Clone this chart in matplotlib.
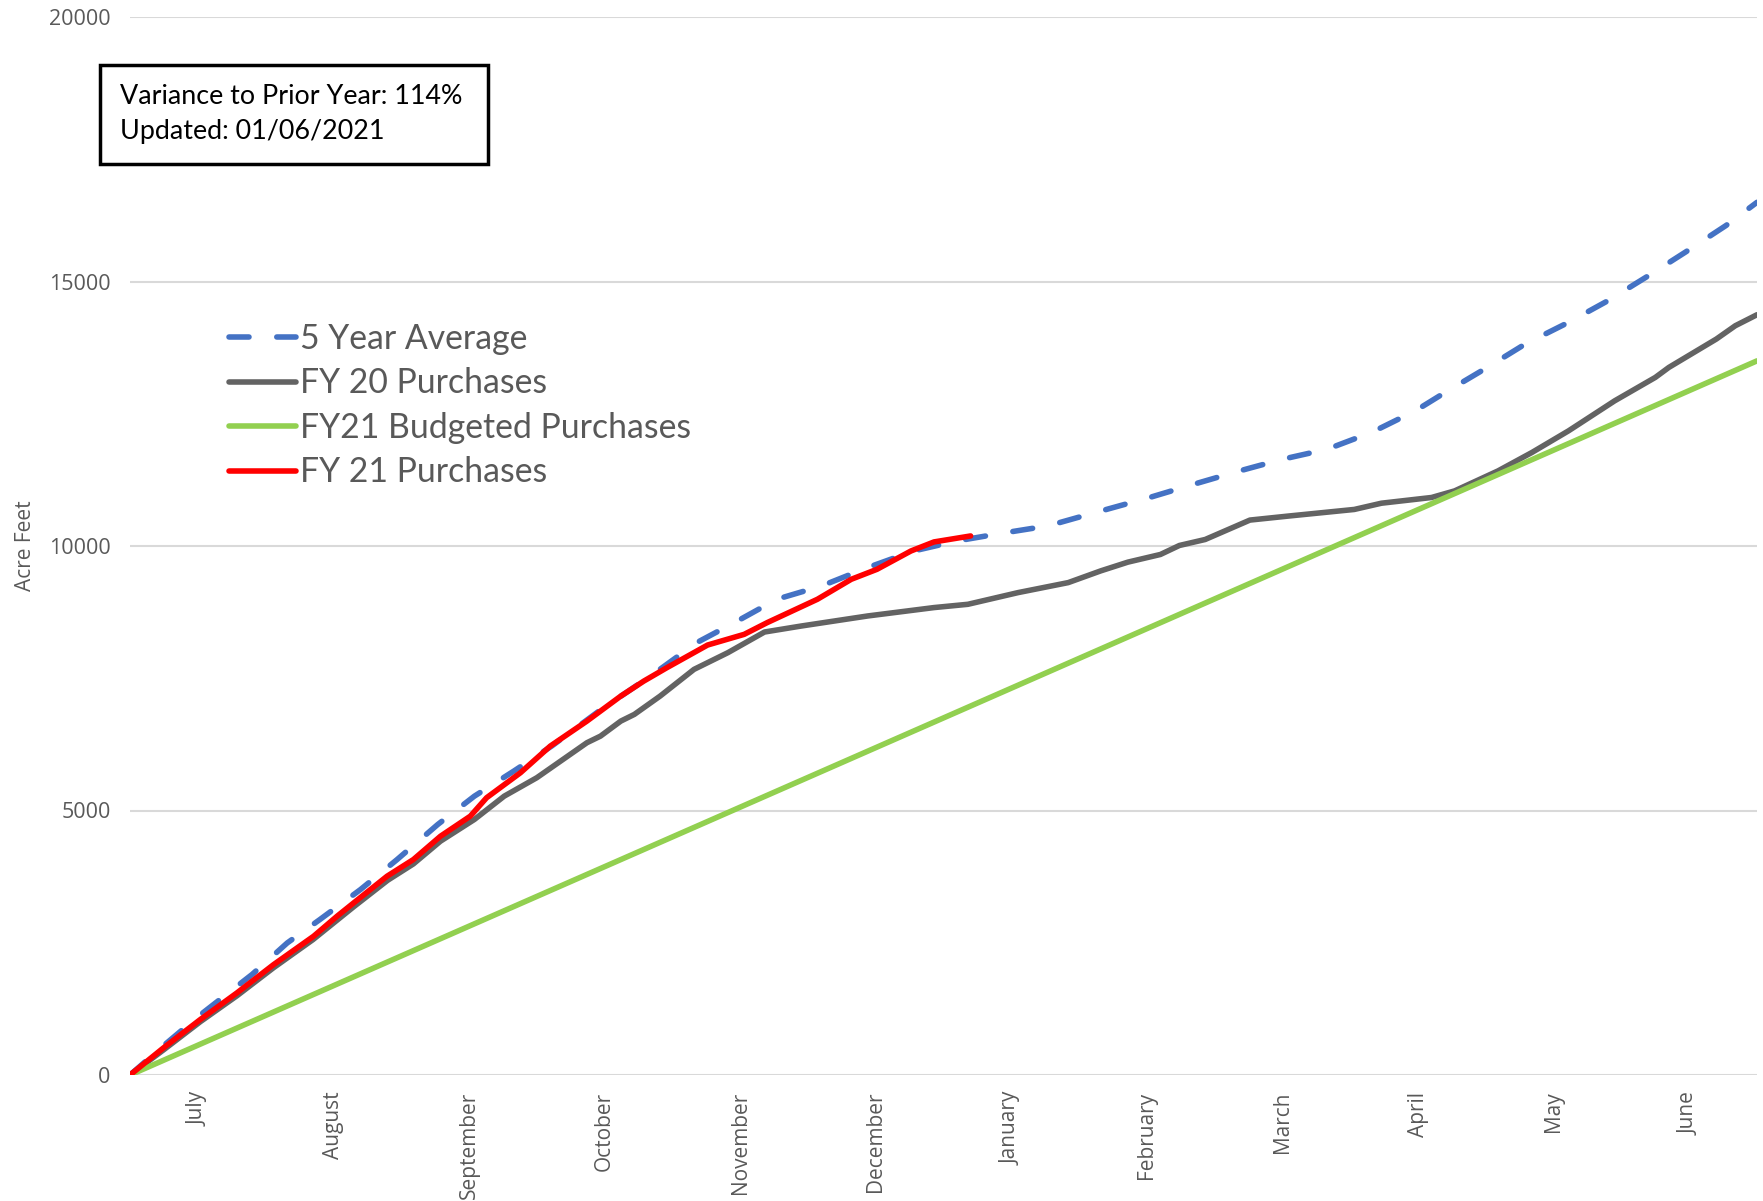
import matplotlib.pyplot as plt
from matplotlib.patches import Rectangle

# months since July 1 (fiscal year runs July -> June)
months = ["July", "August", "September", "October", "November", "December",
          "January", "February", "March", "April", "May", "June"]

avg5_x = [0, 0.25, 0.5, 0.9, 1.16, 1.4, 1.7, 1.97, 2.27, 2.54, 2.83, 3.11, 3.47,
          3.84, 4.18, 4.48, 4.77, 5.10, 5.44, 5.78, 6.10, 6.43, 6.77, 7.12, 7.52,
          7.84, 8.18, 8.5, 8.83, 9.16, 9.48, 9.70, 9.99, 10.29, 10.61, 10.90,
          11.20, 11.47, 11.77, 12.0]
avg5_y = [0, 560, 1100, 1900, 2497, 2938, 3506, 4073, 4736, 5271, 5744, 6218, 6900,
          7541, 8173, 8582, 8993, 9244, 9592, 9906, 10096, 10241, 10380, 10633, 10917,
          11163, 11417, 11640, 11830, 12150, 12555, 12903, 13344, 13817, 14228, 14636,
          15110, 15552, 16056, 16497]

fy20_x = [0, 0.25, 0.52, 0.79, 1.06, 1.35, 1.65, 1.90, 2.09, 2.29, 2.54, 2.76, 3.0,
          3.37, 3.47, 3.62, 3.72, 3.91, 4.16, 4.41, 4.68, 4.95, 5.44, 5.93, 6.18, 6.55,
          6.92, 7.16, 7.36, 7.6, 7.74, 7.93, 8.26, 8.54, 9.03, 9.23, 9.60, 9.77, 10.09,
          10.34, 10.61, 10.95, 11.25, 11.35, 11.70, 11.84, 12.0]
fy20_y = [0, 480, 1010, 1500, 2030, 2560, 3180, 3680, 3990, 4420, 4830, 5271, 5619,
          6281, 6406, 6690, 6817, 7163, 7668, 7984, 8374, 8487, 8677, 8836, 8898, 9119,
          9308, 9530, 9695, 9840, 10010, 10123, 10490, 10565, 10691, 10809, 10917, 11042,
          11420, 11768, 12177, 12744, 13187, 13376, 13912, 14164, 14372]

budget_x = [0, 1, 2, 3, 4, 5, 6, 7, 8, 9, 10, 11, 12]
budget_y = [0, 1125, 2250, 3375, 4500, 5625, 6750, 7875, 9000, 10125, 11250, 12375, 13500]

fy21_x = [0, 0.246, 0.517, 0.788, 1.059, 1.354, 1.527, 1.65, 1.896, 2.09, 2.29, 2.51,
          2.63, 2.88, 3.10, 3.37, 3.62, 3.79, 3.96, 4.26, 4.53, 4.70, 5.07, 5.32, 5.51,
          5.76, 5.93, 6.20]
fy21_y = [0, 511, 1046, 1551, 2087, 2623, 3001, 3254, 3758, 4073, 4514, 4893, 5241,
          5714, 6218, 6690, 7163, 7447, 7700, 8128, 8330, 8552, 8993, 9371, 9560, 9906,
          10077, 10190]

W, H = 1763, 1201
fig = plt.figure(figsize=(W / 100, H / 100), dpi=100)
ax = fig.add_axes([130 / W, 1 - 1075 / H, (1757 - 130) / W, (1075 - 17) / H])

lw = 4
ax.plot(avg5_x, avg5_y, color="#4472C4", lw=lw, dashes=(3.6, 5.0),
        dash_capstyle="round", label="5 Year Average")
ax.plot(fy20_x, fy20_y, color="#636363", lw=lw, solid_capstyle="round",
        solid_joinstyle="round", label="FY 20 Purchases")
ax.plot(budget_x, budget_y, color="#92D050", lw=lw, solid_capstyle="round",
        label="FY21 Budgeted Purchases")
ax.plot(fy21_x, fy21_y, color="#FF0000", lw=lw, solid_capstyle="round",
        solid_joinstyle="round", label="FY 21 Purchases")

ax.set_xlim(0, 12)
ax.set_ylim(0, 20000)
ax.set_yticks([0, 5000, 10000, 15000, 20000])
ax.set_xticks([i + 0.5 for i in range(12)])
ax.set_xticklabels(months, rotation=90, fontfamily="Open Sans", fontsize=15,
                   color="#595959")
ax.set_yticklabels(["0", "5000", "10000", "15000", "20000"], fontfamily="Open Sans",
                   fontsize=15.5, color="#595959")
ax.tick_params(length=0, pad=14)
ax.tick_params(axis="x", pad=12)
for s in ax.spines.values():
    s.set_visible(False)
ax.grid(axis="y", color="#d9d9d9", lw=1.5)
ax.set_axisbelow(True)
ax.set_ylabel("Acre Feet", fontfamily="Open Sans", fontsize=15, color="#595959",
              labelpad=9)

leg = ax.legend(loc="upper left", bbox_to_anchor=(212 / W, 1 - 306 / H),
                bbox_transform=fig.transFigure, frameon=False,
                prop={"family": "Lato", "size": 24.3}, handlelength=2.0,
                handletextpad=0.1, labelspacing=0.37, borderpad=0)
for t in leg.get_texts():
    t.set_color("#595959")

# info box
fig.patches.append(Rectangle((100 / W, 1 - 164 / H), 388 / W, 99 / H,
                             transform=fig.transFigure, fill=False,
                             edgecolor="black", lw=2.5))
fig.text(120 / W, 1 - 96 / H, "Variance to Prior Year: 114%", fontfamily="Lato",
         fontsize=19.4, va="center", ha="left", color="black")
fig.text(120 / W, 1 - 132 / H, "Updated: 01/06/2021", fontfamily="Lato",
         fontsize=19.4, va="center", ha="left", color="black")

fig.savefig("out.png", dpi=100)
